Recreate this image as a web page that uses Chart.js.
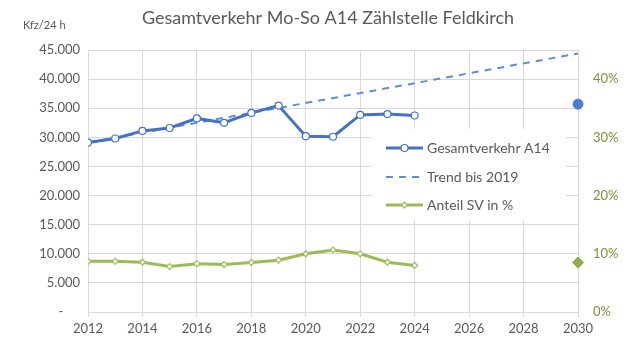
<!DOCTYPE html>
<html>
<head>
<meta charset="utf-8">
<script src="https://cdn.jsdelivr.net/npm/chart.js@4"></script>
<style>
  html, body { margin: 0; padding: 0; background: #ffffff; }
  #wrap { width: 640px; height: 351px; position: relative; }
</style>
</head>
<body>
<div id="wrap"><canvas id="c" width="640" height="351"></canvas></div>
<script>
// ---- Data ----
const titleText = 'Gesamtverkehr Mo-So A14 Zählstelle Feldkirch';
const unitText = 'Kfz/24 h';
const years = [2012, 2013, 2014, 2015, 2016, 2017, 2018, 2019, 2020, 2021, 2022, 2023, 2024];
const gesamtverkehr = [29100, 29800, 31100, 31600, 33250, 32500, 34200, 35450, 30200, 30100, 33850, 34000, 33750];
const anteilSV = [8.7, 8.7, 8.55, 7.8, 8.3, 8.15, 8.5, 8.9, 10.0, 10.65, 10.0, 8.55, 8.0];
const trendYears = [2012, 2030];
const trendValues = [29100, 44400];
const prognoseYear = [2030];
const prognoseGesamt = [35700];
const prognoseSV = [8.5];
const seriesNames = ['Gesamtverkehr A14', 'Trend bis 2019', 'Anteil SV in %'];

const FONT = 'Lato, "Open Sans", sans-serif';
const GRAY = '#595959';
const BLUE = '#4472c4';
const TREND = '#5b8fd6';
const GREEN = '#9bbb59';
const OLIVE = '#77933c';
const GRID = '#d9d9d9';

const toXY = (xs, ys) => xs.map((x, i) => ({ x: x, y: ys[i] }));
const fmtThousands = v => String(v).replace(/\B(?=(\d{3})+(?!\d))/g, '.');

const overlayPlugin = {
  id: 'overlay',
  afterDraw(chart) {
    const ctx = chart.ctx;
    ctx.save();
    // title
    ctx.fillStyle = GRAY;
    ctx.font = '18px ' + FONT;
    ctx.textAlign = 'center';
    ctx.textBaseline = 'middle';
    ctx.fillText(titleText, 328, 18);
    // unit
    ctx.font = '11px ' + FONT;
    ctx.textAlign = 'left';
    ctx.fillText(unitText, 23, 25);
    // legend
    const lx = 372, ly = 129, lw = 194, lh = 91;
    ctx.fillStyle = '#ffffff';
    ctx.fillRect(lx, ly, lw, lh);
    const rows = [148, 177, 205];
    const dsIdx = [0, 1, 2];
    dsIdx.forEach((di, r) => {
      const ds = chart.data.datasets[di];
      const y = rows[r];
      ctx.save();
      ctx.strokeStyle = ds.borderColor;
      ctx.lineWidth = ds.borderWidth;
      ctx.setLineDash(ds.borderDash || []);
      ctx.beginPath();
      ctx.moveTo(386, y);
      ctx.lineTo(423, y);
      ctx.stroke();
      ctx.restore();
      if (ds.pointRadius > 0) {
        ctx.save();
        ctx.fillStyle = ds.pointBackgroundColor;
        ctx.strokeStyle = ds.pointBorderColor;
        ctx.lineWidth = ds.pointBorderWidth;
        Chart.helpers.drawPoint(ctx, { pointStyle: ds.pointStyle, radius: ds.pointRadius, borderWidth: ds.pointBorderWidth, rotation: 0 }, 404.5, y);
        ctx.restore();
      }
      ctx.fillStyle = GRAY;
      ctx.font = '14px ' + FONT;
      ctx.textAlign = 'left';
      ctx.textBaseline = 'middle';
      ctx.fillText(ds.label, 427, y);
    });
    ctx.restore();
  }
};

new Chart(document.getElementById('c'), {
  type: 'line',
  data: {
    datasets: [
      {
        label: seriesNames[0],
        data: toXY(years, gesamtverkehr),
        yAxisID: 'y',
        borderColor: BLUE,
        borderWidth: 3,
        pointStyle: 'circle',
        pointRadius: 3.5,
        pointBackgroundColor: '#ffffff',
        pointBorderColor: BLUE,
        pointBorderWidth: 1.2,
        tension: 0,
        order: 1
      },
      {
        label: seriesNames[1],
        data: toXY(trendYears, trendValues),
        yAxisID: 'y',
        borderColor: TREND,
        borderWidth: 2,
        borderDash: [7, 6],
        pointRadius: 0,
        tension: 0,
        order: 2
      },
      {
        label: seriesNames[2],
        data: toXY(years, anteilSV),
        yAxisID: 'y1',
        borderColor: GREEN,
        borderWidth: 3,
        pointStyle: 'rectRot',
        pointRadius: 3,
        pointBackgroundColor: '#ffffff',
        pointBorderColor: GREEN,
        pointBorderWidth: 1.2,
        tension: 0,
        order: 1
      },
      {
        label: 'Prognose 2030',
        data: toXY(prognoseYear, prognoseGesamt),
        yAxisID: 'y',
        showLine: false,
        pointStyle: 'circle',
        pointRadius: 5,
        pointBackgroundColor: '#4a7fd0',
        pointBorderColor: '#4a7fd0',
        clip: false
      },
      {
        label: 'Prognose SV 2030',
        data: toXY(prognoseYear, prognoseSV),
        yAxisID: 'y1',
        showLine: false,
        pointStyle: 'rectRot',
        pointRadius: 5.5,
        pointBackgroundColor: '#8db04f',
        pointBorderColor: '#8db04f',
        clip: false
      }
    ]
  },
  options: {
    responsive: false,
    animation: false,
    layout: { padding: { top: 50, left: 0, right: 0, bottom: 0 } },
    plugins: {
      legend: { display: false },
      title: { display: false },
      tooltip: { enabled: false }
    },
    scales: {
      x: {
        type: 'linear',
        min: 2012,
        max: 2030,
        ticks: {
          stepSize: 2,
          color: GRAY,
          font: { family: FONT, size: 13 },
          padding: 4,
          callback: v => String(v)
        },
        grid: { color: GRID, lineWidth: 1, drawTicks: true, tickLength: 5, tickColor: GRID },
        border: { color: GRID },
        afterFit: s => { s.height = 39; }
      },
      y: {
        type: 'linear',
        position: 'left',
        min: 0,
        max: 45000,
        ticks: {
          stepSize: 5000,
          color: GRAY,
          font: { family: FONT, size: 13 },
          padding: 8,
          callback: v => v === 0 ? '-     ' : fmtThousands(v)
        },
        grid: { color: GRID, lineWidth: 1, drawTicks: false },
        border: { display: false },
        afterFit: s => { s.width = 88; }
      },
      y1: {
        type: 'linear',
        position: 'right',
        min: 0,
        max: 45,
        ticks: {
          stepSize: 10,
          color: OLIVE,
          font: { family: FONT, size: 13 },
          padding: 15,
          callback: v => v + '%'
        },
        afterBuildTicks: s => { s.ticks = s.ticks.filter(t => t.value % 10 === 0); },
        grid: { display: false, drawTicks: false },
        border: { display: false },
        afterFit: s => { s.width = 62; }
      }
    }
  },
  plugins: [overlayPlugin]
});
</script>
</body>
</html>
